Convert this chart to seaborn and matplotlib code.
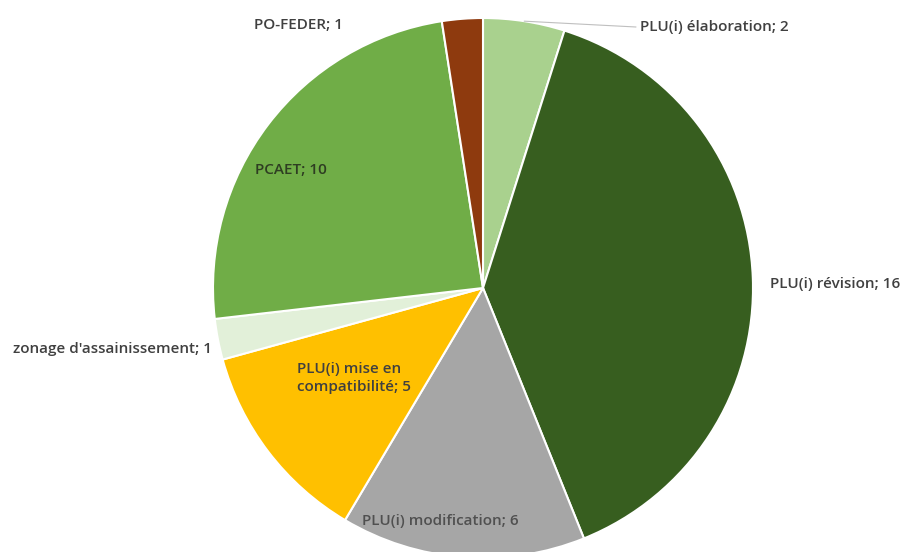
import numpy as np
import seaborn as sns
import matplotlib.pyplot as plt

# data
categories = ["PLU(i) élaboration", "PLU(i) révision", "PLU(i) modification",
              "PLU(i) mise en\ncompatibilité", "zonage d'assainissement",
              "PCAET", "PO-FEDER"]
counts = [2, 16, 6, 5, 1, 10, 1]
colors = ["#a9d18e", "#375e1f", "#a6a6a6", "#ffc000", "#e2f0d9", "#70ad47", "#8e3a0e"]

sns.set_theme(style="white")
plt.rcParams["font.family"] = ["Open Sans", "DejaVu Sans"]

W, H = 906, 552
fig = plt.figure(figsize=(W / 100, H / 100), dpi=100)
ax = fig.add_axes([0, 0, 1, 1])

cx, cy, r = 483, H - 288, 270
wedges, _ = ax.pie(counts, colors=colors, startangle=90, counterclock=False,
                   center=(cx, cy), radius=r, frame=True,
                   wedgeprops=dict(edgecolor="white", linewidth=1.5))
ax.set_xlim(0, W)
ax.set_ylim(0, H)
ax.set_aspect("equal")
ax.axis("off")

# label layout (pixel positions from top-left, alignment)
layout = [
    (640, 27, "left"),
    (770, 284, "left"),
    (440, 521, "center"),
    (297, 378, "left"),
    (212, 349, "right"),
    (255, 170, "left"),
    (298, 25, "center"),
]
text_col = ["#404040", "#404040", "#505050", "#404040", "#404040", "#2e3d22", "#404040"]

for i, (name, val) in enumerate(zip(categories, counts)):
    x, y, ha = layout[i]
    ax.text(x, H - y, f"{name}; {val}", ha=ha, va="center", fontsize=11,
            fontweight="semibold", color=text_col[i], linespacing=1.3)

# leader line for the small top slice
w = wedges[0]
mid = np.deg2rad((w.theta1 + w.theta2) / 2)
ax.plot([cx + r * np.cos(mid), 636], [cy + r * np.sin(mid), H - 27],
        color="#bfbfbf", lw=0.8)

fig.savefig("out.png", dpi=100)
